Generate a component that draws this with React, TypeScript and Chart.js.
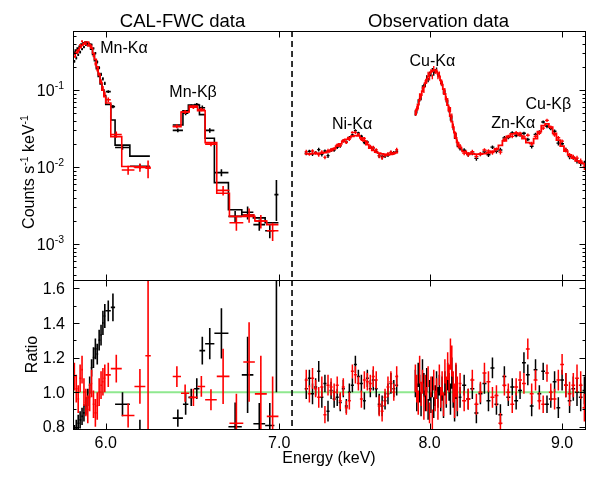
import React, { useEffect, useRef } from "react";
import { Chart, registerables } from "chart.js";

Chart.register(...registerables);

const W = 602;
const H = 478;
const FONT = '"Liberation Sans", Arial, Helvetica, sans-serif';

// ---------- axes ----------
const energyRange = [5.828, 9.185];
const countsRange = [3.44e-4, 0.584];
const ratioRange = [0.787, 1.648];
const energyTicks = [6, 7, 8, 9];
const energyTickLabels = ["6.0", "7.0", "8.0", "9.0"];
const countsMajorTicks = [1e-3, 1e-2, 1e-1];
const countsMajorExponents = ["-3", "-2", "-1"];
const countsMinorTicks = [
  4e-4, 5e-4, 6e-4, 7e-4, 8e-4, 9e-4, 2e-3, 3e-3, 4e-3, 5e-3, 6e-3, 7e-3, 8e-3, 9e-3,
  0.02, 0.03, 0.04, 0.05, 0.06, 0.07, 0.08, 0.09, 0.2, 0.3, 0.4, 0.5,
];
const ratioMajorTicks = [0.8, 1.0, 1.2, 1.4, 1.6];
const ratioTickLabels = ["0.8", "1.0", "1.2", "1.4", "1.6"];
const ratioMinorTicks = [0.9, 1.1, 1.3, 1.5];
const dividerEnergy = 7.08;
const unityRatio = 1.0;

// ---------- line labels ----------
const lineLabels = ["Mn-Kα", "Mn-Kβ", "Ni-Kα", "Cu-Kα", "Zn-Kα", "Cu-Kβ"];
const lineLabelEnergy = [6.098, 6.484, 7.468, 8.02, 8.618, 8.891];
const lineLabelCounts = [0.36, 0.097, 0.0373, 0.245, 0.0384, 0.0678];

// ---------- CAL-FWC data (black) ----------
const calBlackE = [
  5.835, 5.845, 5.855, 5.865, 5.875, 5.885, 5.895, 5.905, 5.915, 5.925, 5.935, 5.945, 5.955, 5.965,
  5.975, 5.985, 5.995, 6.0135, 6.0385, 6.09, 6.185,
  6.397, 6.4415, 6.4735, 6.5055, 6.5375, 6.581, 6.6495, 6.731, 6.806, 6.877, 6.9415, 6.9825,
];
const calBlackHW = [
  0.005, 0.005, 0.005, 0.005, 0.005, 0.005, 0.005, 0.005, 0.005, 0.005, 0.005, 0.005, 0.005, 0.005,
  0.005, 0.005, 0.005, 0.0135, 0.0115, 0.04, 0.055,
  0.029, 0.0155, 0.0165, 0.0155, 0.0165, 0.027, 0.0415, 0.04, 0.035, 0.036, 0.0285, 0.0125,
];
const calBlackModel = [
  0.31, 0.33, 0.35, 0.37, 0.395, 0.41, 0.42, 0.41, 0.38, 0.34, 0.29, 0.24, 0.19, 0.15,
  0.12, 0.1, 0.085, 0.065, 0.041, 0.0193, 0.0139,
  0.0352, 0.054, 0.064, 0.064, 0.048, 0.0237, 0.0063, 0.0028, 0.0024, 0.0022, 0.0019, 0.0019,
];
const calBlackCounts = [
  0.236, 0.261, 0.287, 0.311, 0.34, 0.361, 0.386, 0.398, 0.395, 0.388, 0.348, 0.3, 0.232, 0.195,
  0.16, 0.14, 0.122, 0.0955, 0.061, 0.018, 0.0103,
  0.03, 0.05, 0.062, 0.065, 0.059, 0.03, 0.0085, 0.0023, 0.0026, 0.0018, 0.0015, 0.0044,
];
const calBlackCountErr = [
  0.01, 0.011, 0.011, 0.012, 0.012, 0.013, 0.013, 0.013, 0.013, 0.013, 0.012, 0.011, 0.01, 0.009,
  0.008, 0.007, 0.006, 0.004, 0.003, 0.0012, 0.0008,
  0.0017, 0.003, 0.003, 0.003, 0.004, 0.002, 0.0009, 0.0004, 0.0005, 0.0003, 0.0003, 0.0024,
];
const calBlackRatio = [
  0.76, 0.79, 0.82, 0.84, 0.86, 0.88, 0.92, 0.97, 1.04, 1.14, 1.2, 1.25, 1.22, 1.3,
  1.33, 1.4, 1.44, 1.47, 1.49, 0.93, 0.74,
  0.85, 0.93, 0.97, 1.02, 1.24, 1.28, 1.34, 0.8, 1.1, 0.817, 0.807, 1.65,
];
const calBlackRatioErr = [
  0.05, 0.05, 0.05, 0.05, 0.05, 0.05, 0.05, 0.05, 0.05, 0.05, 0.06, 0.06, 0.06, 0.06,
  0.06, 0.07, 0.07, 0.06, 0.08, 0.07, 0.1,
  0.05, 0.06, 0.05, 0.06, 0.08, 0.09, 0.145, 0.14, 0.22, 0.12, 0.13, 0.65,
];

// ---------- CAL-FWC data (red) ----------
const calRedE = [
  5.835, 5.845, 5.855, 5.865, 5.875, 5.885, 5.895, 5.905, 5.915, 5.925, 5.935, 5.945, 5.955, 5.965,
  5.975, 5.985, 5.995, 6.0135, 6.0565, 6.1205, 6.185, 6.23,
  6.3915, 6.4385, 6.486, 6.532, 6.588, 6.6595, 6.7385, 6.815, 6.8865, 6.959,
];
const calRedHW = [
  0.005, 0.005, 0.005, 0.005, 0.005, 0.005, 0.005, 0.005, 0.005, 0.005, 0.005, 0.005, 0.005, 0.005,
  0.005, 0.005, 0.005, 0.0135, 0.0295, 0.0345, 0.03, 0.015,
  0.0235, 0.0235, 0.024, 0.022, 0.034, 0.0375, 0.0415, 0.035, 0.0365, 0.036,
];
const calRedModel = [
  0.27, 0.3, 0.33, 0.355, 0.38, 0.4, 0.42, 0.42, 0.39, 0.35, 0.3, 0.25, 0.2, 0.16,
  0.125, 0.1, 0.082, 0.068, 0.0249, 0.0102, 0.0101, 0.01,
  0.0335, 0.052, 0.062, 0.054, 0.0208, 0.0046, 0.0023, 0.0023, 0.002, 0.0018,
];
const calRedCounts = [
  0.294, 0.306, 0.317, 0.383, 0.429, 0.4, 0.395, 0.378, 0.378, 0.368, 0.279, 0.22, 0.184, 0.16,
  0.13, 0.106, 0.0886, 0.075, 0.0265, 0.0092, 0.0099, 0.0097,
  0.034, 0.052, 0.06, 0.056, 0.0199, 0.005, 0.0019, 0.0024, 0.002, 0.0015,
];
const calRedCountErr = [
  0.01, 0.011, 0.011, 0.012, 0.013, 0.013, 0.013, 0.013, 0.013, 0.013, 0.012, 0.011, 0.01, 0.009,
  0.008, 0.007, 0.006, 0.005, 0.0025, 0.0012, 0.0012, 0.0025,
  0.002, 0.003, 0.003, 0.003, 0.0012, 0.0007, 0.0004, 0.0005, 0.0004, 0.0004,
];
const calRedRatio = [
  1.09, 1.02, 0.96, 1.08, 1.13, 1.0, 0.94, 0.9, 0.97, 1.05, 0.93, 0.88, 0.92, 1.0,
  1.04, 1.06, 1.08, 1.1, 1.136, 0.865, 1.033, 1.21,
  1.09, 0.994, 0.97, 1.033, 0.956, 1.091, 0.82, 1.174, 0.99, 0.86,
];
const calRedRatioErr = [
  0.08, 0.08, 0.08, 0.08, 0.08, 0.08, 0.08, 0.08, 0.08, 0.08, 0.08, 0.08, 0.08, 0.08,
  0.08, 0.08, 0.08, 0.07, 0.08, 0.07, 0.1, 0.6,
  0.06, 0.05, 0.05, 0.06, 0.06, 0.16, 0.17, 0.23, 0.22, 0.23,
];

// ---------- Observation data ----------
const obsEnergy = [
  7.17, 7.19, 7.21, 7.23, 7.25, 7.27, 7.29, 7.31, 7.33, 7.35, 7.37, 7.39, 7.41, 7.43, 7.45, 7.47,
  7.49, 7.51, 7.53, 7.55, 7.57, 7.59, 7.61, 7.63, 7.65, 7.67, 7.69, 7.71, 7.73, 7.75, 7.77,
  7.9, 7.91, 7.92, 7.93, 7.94, 7.95, 7.96, 7.97, 7.98, 7.99, 8.0, 8.01, 8.02, 8.03, 8.04, 8.05,
  8.06, 8.07, 8.08, 8.09, 8.1, 8.11, 8.12, 8.13, 8.14, 8.15, 8.16, 8.17, 8.18, 8.19, 8.2,
  8.22, 8.25, 8.28, 8.31, 8.34, 8.37, 8.4, 8.43, 8.46, 8.49, 8.52, 8.55, 8.58, 8.61, 8.64, 8.67,
  8.7, 8.73, 8.76, 8.79, 8.82, 8.85, 8.88, 8.91, 8.94, 8.97, 9.0, 9.03, 9.06, 9.09, 9.12, 9.15, 9.18,
];
const obsModel = [
  0.0149, 0.0149, 0.015, 0.015, 0.0151, 0.0152, 0.0154, 0.0158, 0.0164, 0.0174, 0.0187, 0.0201,
  0.0216, 0.023, 0.0242, 0.0252, 0.0257, 0.0254, 0.024, 0.022, 0.0196, 0.0177, 0.0165, 0.0157,
  0.0152, 0.0149, 0.0146, 0.0145, 0.0147, 0.0151, 0.0155,
  0.048, 0.056, 0.065, 0.075, 0.086, 0.097, 0.109, 0.123, 0.137, 0.15, 0.162, 0.171, 0.177, 0.181,
  0.181, 0.175, 0.164, 0.15, 0.134, 0.118, 0.103, 0.089, 0.076, 0.064, 0.054, 0.046, 0.039, 0.033,
  0.028, 0.024, 0.021,
  0.018, 0.016, 0.0152, 0.0149, 0.0148, 0.0148, 0.015, 0.0153, 0.016, 0.0173, 0.0192, 0.022,
  0.025, 0.027, 0.0272, 0.0258, 0.0235, 0.0208, 0.0203, 0.0235, 0.029, 0.0345, 0.0365, 0.033,
  0.0275, 0.0225, 0.0188, 0.0162, 0.0144, 0.0131, 0.0121, 0.0115, 0.0111,
];
const obsBlackCounts = [
  0.0152, 0.0161, 0.0149, 0.0155, 0.0169, 0.0147, 0.0162, 0.0141, 0.0166, 0.0167, 0.0181, 0.0189,
  0.022, 0.0212, 0.0242, 0.0262, 0.0298, 0.0277, 0.0252, 0.0209, 0.0212, 0.0181, 0.0177, 0.016,
  0.0141, 0.0137, 0.0139, 0.0144, 0.0154, 0.0154, 0.0161,
  0.0504, 0.0543, 0.0715, 0.0765, 0.08, 0.1086, 0.1134, 0.1169, 0.1466, 0.135, 0.1636, 0.1607,
  0.1823, 0.1647, 0.1774, 0.1855, 0.1591, 0.156, 0.1273, 0.1204, 0.0948, 0.0935, 0.0752, 0.0698,
  0.0556, 0.0442, 0.0433, 0.033, 0.026, 0.0254, 0.0202,
  0.0175, 0.0166, 0.0146, 0.0152, 0.013, 0.0147, 0.0158, 0.0145, 0.0182, 0.0161, 0.0167, 0.024,
  0.0243, 0.0278, 0.0258, 0.0261, 0.0275, 0.0229, 0.0187, 0.0266, 0.0287, 0.0386, 0.0339, 0.0317,
  0.0292, 0.0205, 0.0201, 0.0168, 0.0137, 0.0134, 0.0121, 0.0112, 0.0112,
];
const obsRedCounts = [
  0.0159, 0.0148, 0.0162, 0.0153, 0.0146, 0.0157, 0.0134, 0.0164, 0.0169, 0.0174, 0.0194, 0.0191,
  0.0222, 0.0209, 0.023, 0.0282, 0.0283, 0.0267, 0.023, 0.0235, 0.0208, 0.0186, 0.018, 0.0168,
  0.014, 0.0133, 0.0142, 0.0149, 0.0156, 0.0151, 0.0169,
  0.0518, 0.0571, 0.0611, 0.0848, 0.0851, 0.1028, 0.0992, 0.1279, 0.1315, 0.1635, 0.1426, 0.1761,
  0.1487, 0.1937, 0.172, 0.1785, 0.1476, 0.165, 0.13, 0.1239, 0.0958, 0.0997, 0.0768, 0.0736,
  0.0583, 0.0561, 0.046, 0.034, 0.0266, 0.0257, 0.0208,
  0.0189, 0.0152, 0.0146, 0.0159, 0.0138, 0.0148, 0.0167, 0.0162, 0.0155, 0.017, 0.0157, 0.0229,
  0.025, 0.0251, 0.028, 0.0276, 0.0247, 0.026, 0.0201, 0.0251, 0.0276, 0.0321, 0.0405, 0.033,
  0.0264, 0.0241, 0.0218, 0.0168, 0.0143, 0.0136, 0.0131, 0.012, 0.0101,
];
const obsBlackRatio = [
  1.02, 1.08, 0.99, 1.03, 1.12, 0.97, 1.05, 0.89, 1.01, 0.96, 0.97, 0.94, 1.02, 0.92, 1.0, 1.04,
  1.16, 1.09, 1.05, 0.95, 1.08, 1.02, 1.07, 1.02, 0.93, 0.92, 0.95, 0.99, 1.05, 1.02, 1.04,
  1.05, 0.97, 1.1, 1.02, 0.93, 1.12, 1.04, 0.95, 1.07, 0.9, 1.01, 0.94, 1.03, 0.91, 0.98, 1.06,
  0.97, 1.04, 0.95, 1.02, 0.92, 1.05, 0.99, 1.09, 1.03, 0.96, 1.11, 1.0, 0.93, 1.06, 0.96,
  0.97, 1.04, 0.96, 1.02, 0.88, 0.99, 1.05, 0.95, 1.14, 0.93, 0.87, 1.09, 0.97, 1.03, 0.95, 1.01,
  1.17, 1.1, 0.92, 1.13, 0.99, 1.12, 0.93, 0.96, 1.06, 0.91, 1.07, 1.04, 0.95, 1.02, 1.0, 0.97, 1.01,
];
const obsRedRatio = [
  1.07, 0.99, 1.08, 1.02, 0.97, 1.03, 0.87, 1.04, 1.03, 1.0, 1.04, 0.95, 1.03, 0.91, 0.95, 1.12,
  1.1, 1.05, 0.96, 1.07, 1.06, 1.05, 1.09, 1.07, 0.92, 0.89, 0.97, 1.03, 1.06, 1.0, 1.09,
  1.08, 1.02, 0.94, 1.13, 0.99, 1.06, 0.91, 1.04, 0.96, 1.09, 0.88, 1.03, 0.84, 1.07, 0.95, 1.02,
  0.9, 1.1, 0.97, 1.05, 0.93, 1.12, 1.01, 1.15, 1.08, 1.22, 1.18, 1.03, 0.95, 1.07, 0.99,
  1.05, 0.95, 0.96, 1.07, 0.93, 1.0, 1.11, 1.06, 0.97, 0.98, 0.82, 1.04, 1.0, 0.93, 1.03, 1.07,
  1.05, 1.25, 0.99, 1.07, 0.95, 0.93, 1.11, 1.0, 0.96, 1.07, 1.16, 1.04, 0.99, 1.04, 1.08, 1.04, 0.91,
];
const obsRatioErr = [
  0.06, 0.05, 0.06, 0.05, 0.06, 0.06, 0.05, 0.06, 0.05, 0.05, 0.05, 0.05, 0.05, 0.04, 0.05, 0.04,
  0.05, 0.04, 0.05, 0.05, 0.05, 0.05, 0.06, 0.05, 0.06, 0.06, 0.05, 0.06, 0.06, 0.05, 0.06,
  0.08, 0.08, 0.07, 0.08, 0.07, 0.07, 0.07, 0.06, 0.07, 0.06, 0.06, 0.06, 0.06, 0.06, 0.06, 0.06,
  0.06, 0.06, 0.06, 0.07, 0.07, 0.07, 0.08, 0.08, 0.08, 0.09, 0.09, 0.09, 0.1, 0.1, 0.1,
  0.06, 0.06, 0.06, 0.06, 0.06, 0.06, 0.06, 0.06, 0.06, 0.06, 0.06, 0.06, 0.05, 0.05, 0.05, 0.05,
  0.06, 0.06, 0.06, 0.06, 0.05, 0.05, 0.05, 0.05, 0.06, 0.06, 0.06, 0.07, 0.07, 0.07, 0.08, 0.08, 0.08,
];

// ---------- builders ----------
type Pt = { x: number; y: number | null };

function crosses(e: number[], hw: number[], v: number[], dv: number[]): Pt[] {
  const pts: Pt[] = [];
  for (let i = 0; i < e.length; i++) {
    pts.push({ x: e[i] - hw[i], y: v[i] }, { x: e[i] + hw[i], y: v[i] }, { x: e[i], y: null });
    pts.push({ x: e[i], y: v[i] - dv[i] }, { x: e[i], y: v[i] + dv[i] }, { x: e[i], y: null });
  }
  return pts;
}

function steps(e: number[], hw: number[], m: number[]): Pt[] {
  const pts: Pt[] = [];
  for (let i = 0; i < e.length; i++) {
    if (i > 0 && e[i] - hw[i] - (e[i - 1] + hw[i - 1]) > 0.02) pts.push({ x: e[i] - hw[i], y: null });
    pts.push({ x: e[i] - hw[i], y: m[i] }, { x: e[i] + hw[i], y: m[i] });
  }
  return pts;
}

function halfWidths(e: number[]): number[] {
  return e.map((x, i) => {
    const l = i > 0 ? x - e[i - 1] : Infinity;
    const r = i < e.length - 1 ? e[i + 1] - x : Infinity;
    return Math.min(l, r) / 2;
  });
}

const obsHW = halfWidths(obsEnergy);
const obsBlackCountErr = obsBlackCounts.map((c, i) => (c * obsRatioErr[i]) / obsBlackRatio[i]);
const obsRedCountErr = obsRedCounts.map((c, i) => (c * obsRatioErr[i]) / obsRedRatio[i]);

function ds(data: Pt[], color: string, width: number, order: number) {
  return {
    data,
    borderColor: color,
    backgroundColor: color,
    borderWidth: width,
    pointRadius: 0,
    pointHoverRadius: 0,
    fill: false,
    spanGaps: false,
    tension: 0,
    order,
  };
}

// ---------- drawing helpers ----------
type Part = { text: string; sup?: boolean };

function partsWidth(ctx: CanvasRenderingContext2D, parts: Part[], size: number, supSize: number) {
  let w = 0;
  for (const p of parts) {
    ctx.font = `${p.sup ? supSize : size}px ${FONT}`;
    w += ctx.measureText(p.text).width;
  }
  return w;
}

function drawParts(
  ctx: CanvasRenderingContext2D,
  parts: Part[],
  x: number,
  baseline: number,
  size: number,
  supSize: number,
  rise: number
) {
  let cx = x;
  ctx.textAlign = "left";
  ctx.textBaseline = "alphabetic";
  for (const p of parts) {
    ctx.font = `${p.sup ? supSize : size}px ${FONT}`;
    ctx.fillText(p.text, cx, p.sup ? baseline - rise : baseline);
    cx += ctx.measureText(p.text).width;
  }
}

function seg(ctx: CanvasRenderingContext2D, x1: number, y1: number, x2: number, y2: number) {
  ctx.beginPath();
  ctx.moveTo(x1, y1);
  ctx.lineTo(x2, y2);
  ctx.stroke();
}

function frameAndXTicks(chart: any) {
  const { ctx, chartArea: a } = chart;
  const xs = chart.scales.x;
  const L = Math.round(a.left) + 0.5;
  const R = Math.round(a.right) + 0.5;
  const T = Math.round(a.top) + 0.5;
  const B = Math.round(a.bottom) + 0.5;
  ctx.strokeStyle = "#000";
  ctx.lineWidth = 1;
  ctx.setLineDash([]);
  ctx.strokeRect(L, T, R - L, B - T);
  for (const v of energyTicks) {
    const px = Math.round(xs.getPixelForValue(v)) + 0.5;
    seg(ctx, px, T, px, T + 6);
    seg(ctx, px, B, px, B - 6);
  }
  // divider
  const dx = xs.getPixelForValue(dividerEnergy);
  ctx.lineWidth = 1.6;
  ctx.setLineDash([6, 4]);
  seg(ctx, dx, a.top, dx, a.bottom);
  ctx.setLineDash([]);
  ctx.lineWidth = 1;
  return { L, R, T, B, dx };
}

function yTicks(chart: any, major: number[], minor: number[], L: number, R: number) {
  const { ctx } = chart;
  const ys = chart.scales.y;
  for (const v of major) {
    const py = Math.round(ys.getPixelForValue(v)) + 0.5;
    seg(ctx, L, py, L + 6, py);
    seg(ctx, R, py, R - 6, py);
  }
  for (const v of minor) {
    const py = Math.round(ys.getPixelForValue(v)) + 0.5;
    seg(ctx, L, py, L + 3, py);
    seg(ctx, R, py, R - 3, py);
  }
}

const topDecor = {
  id: "topDecor",
  afterDatasetsDraw(chart: any) {
    const { ctx, chartArea: a } = chart;
    const xs = chart.scales.x;
    const ys = chart.scales.y;
    ctx.save();
    const { L, R, dx } = frameAndXTicks(chart);
    yTicks(chart, countsMajorTicks, countsMinorTicks, L, R);
    ctx.fillStyle = "#000";
    // y tick labels 10^n
    countsMajorTicks.forEach((v, i) => {
      const py = ys.getPixelForValue(v);
      const parts: Part[] = [{ text: "10" }, { text: countsMajorExponents[i], sup: true }];
      const w = partsWidth(ctx, parts, 16, 10.5);
      drawParts(ctx, parts, a.left - 9 - w, py + 5.7, 16, 10.5, 6.5);
    });
    // y title
    ctx.save();
    ctx.translate(a.left - 39, a.top + 141);
    ctx.rotate(-Math.PI / 2);
    const tparts: Part[] = [
      { text: "Counts s" },
      { text: "-1", sup: true },
      { text: " keV" },
      { text: "-1", sup: true },
    ];
    const tw = partsWidth(ctx, tparts, 16, 10.5);
    drawParts(ctx, tparts, -tw / 2, 0, 16, 10.5, 6.5);
    ctx.restore();
    // panel titles
    ctx.font = `18.5px ${FONT}`;
    ctx.textAlign = "center";
    ctx.textBaseline = "alphabetic";
    ctx.fillText("CAL-FWC data", (a.left + dx) / 2, a.top - 4.5);
    ctx.fillText("Observation data", (dx + a.right) / 2, a.top - 4.5);
    // line labels
    ctx.font = `16px ${FONT}`;
    lineLabels.forEach((t, i) => {
      ctx.fillText(t, xs.getPixelForValue(lineLabelEnergy[i]), ys.getPixelForValue(lineLabelCounts[i]) + 5.7);
    });
    ctx.restore();
  },
};

const bottomDecor = {
  id: "bottomDecor",
  afterDatasetsDraw(chart: any) {
    const { ctx, chartArea: a } = chart;
    const xs = chart.scales.x;
    const ys = chart.scales.y;
    ctx.save();
    const { L, R } = frameAndXTicks(chart);
    yTicks(chart, ratioMajorTicks, ratioMinorTicks, L, R);
    ctx.fillStyle = "#000";
    ctx.font = `16px ${FONT}`;
    ctx.textBaseline = "alphabetic";
    ctx.textAlign = "right";
    ratioMajorTicks.forEach((v, i) => {
      ctx.fillText(ratioTickLabels[i], a.left - 8, ys.getPixelForValue(v) + 5.7);
    });
    ctx.textAlign = "center";
    energyTicks.forEach((v, i) => {
      ctx.fillText(energyTickLabels[i], xs.getPixelForValue(v), a.bottom + 19);
    });
    ctx.fillText("Energy (keV)", (a.left + a.right) / 2, a.bottom + 34);
    ctx.save();
    ctx.translate(a.left - 36, (a.top + a.bottom) / 2);
    ctx.rotate(-Math.PI / 2);
    ctx.fillText("Ratio", 0, 0);
    ctx.restore();
    ctx.restore();
  },
};

const commonOptions = (padding: any, yScale: any) => ({
  animation: false as const,
  responsive: false,
  events: [] as any[],
  layout: { padding },
  plugins: { legend: { display: false }, tooltip: { enabled: false }, title: { display: false } },
  scales: {
    x: { type: "logarithmic" as const, min: energyRange[0], max: energyRange[1], display: false, bounds: "data" as const },
    y: yScale,
  },
});

export default function App() {
  const topRef = useRef<HTMLCanvasElement>(null);
  const botRef = useRef<HTMLCanvasElement>(null);

  useEffect(() => {
    const topChart = new Chart(topRef.current!, {
      type: "line",
      data: {
        datasets: [
          ds(crosses(calBlackE, calBlackHW, calBlackCounts, calBlackCountErr), "#000", 1.6, 6),
          ds(steps(calBlackE, calBlackHW, calBlackModel), "#000", 1.6, 5),
          ds(crosses(obsEnergy, obsHW, obsBlackCounts, obsBlackCountErr), "#000", 1.4, 4),
          ds(crosses(calRedE, calRedHW, calRedCounts, calRedCountErr), "#ff0000", 1.6, 3),
          ds(crosses(obsEnergy, obsHW, obsRedCounts, obsRedCountErr), "#ff0000", 1.4, 2),
          ds(steps(calRedE, calRedHW, calRedModel), "#ff0000", 1.6, 1),
          ds(steps(obsEnergy, obsHW, obsModel), "#ff0000", 1.8, 0),
        ] as any,
      },
      options: commonOptions(
        { left: 73, right: 17, top: 31, bottom: H - 280 },
        { type: "logarithmic", min: countsRange[0], max: countsRange[1], display: false, bounds: "data" }
      ) as any,
      plugins: [topDecor],
    });

    const botChart = new Chart(botRef.current!, {
      type: "line",
      data: {
        datasets: [
          ds(
            [
              { x: energyRange[0], y: unityRatio },
              { x: energyRange[1], y: unityRatio },
            ],
            "#8fe88f",
            2,
            10
          ),
          ds(crosses(calBlackE, calBlackHW, calBlackRatio, calBlackRatioErr), "#000", 1.6, 5),
          ds(crosses(obsEnergy, obsHW, obsBlackRatio, obsRatioErr), "#000", 1.5, 4),
          ds(crosses(calRedE, calRedHW, calRedRatio, calRedRatioErr), "#ff0000", 1.6, 3),
          ds(crosses(obsEnergy, obsHW, obsRedRatio, obsRatioErr), "#ff0000", 1.5, 2),
        ] as any,
      },
      options: commonOptions(
        { left: 73, right: 17, top: 280, bottom: H - 429 },
        { type: "linear", min: ratioRange[0], max: ratioRange[1], display: false, bounds: "data" }
      ) as any,
      plugins: [bottomDecor],
    });

    return () => {
      topChart.destroy();
      botChart.destroy();
    };
  }, []);

  return (
    <div style={{ position: "absolute", left: 0, top: 0, width: W, height: H, background: "#fff" }}>
      <canvas ref={topRef} width={W} height={H} style={{ position: "absolute", left: 0, top: 0 }} />
      <canvas ref={botRef} width={W} height={H} style={{ position: "absolute", left: 0, top: 0 }} />
    </div>
  );
}
